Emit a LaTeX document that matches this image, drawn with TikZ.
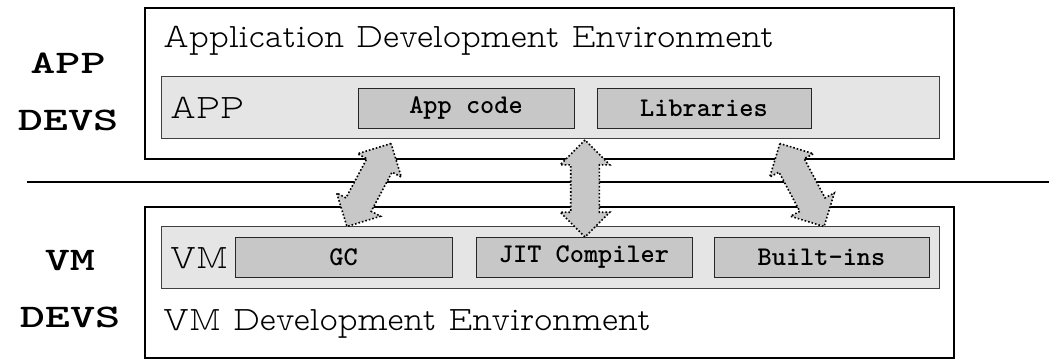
\documentclass[tikz,border=0pt]{standalone}
\usetikzlibrary{shapes.arrows,positioning}
\newcommand\envfont{\fontfamily{lmvtt}\fontseries{l}\fontsize{34.2}{38}\selectfont}
\newcommand\partfont{\fontfamily{lmtt}\fontseries{b}\fontsize{27}{30}\selectfont}
\newcommand\devsfont{\fontfamily{lmtt}\fontseries{b}\fontsize{33}{57}\selectfont}
\newcommand\shaftstrut{\rule[-13.5pt]{0pt}{27pt}}
\begin{document}
\begin{tikzpicture}[x=1pt,y=-1pt,
    envbox/.style={draw=black, line width=2pt, fill=white, minimum width=809pt, minimum height=151pt, inner sep=0pt},
    layerbox/.style={draw=black!75, line width=1pt, fill=black!10, minimum width=778pt, minimum height=62pt, inner sep=0pt},
    partbox/.style={draw=black!85, line width=1pt, fill=black!22, minimum width=216pt, minimum height=40pt, inner sep=0pt, font=\partfont},
    envlabel/.style={anchor=base west, inner sep=0pt, font=\envfont},
    devslabel/.style={align=center, inner sep=0pt, xscale=1.45, font=\devsfont},
    fatarrow/.style={double arrow, draw=black, dotted, line width=1.6pt, fill=black!22, double arrow head extend=10.5pt, inner sep=0pt, minimum height=#1},
    fatarrow/.default=97pt]
  \useasboundingbox (0,0) rectangle (1049,360);
  \node[envbox] (appenv) at (549.5,83.5) {};
  \node[envlabel] (apptitle) at (163,47) {Application Development Environment};
  \node[layerbox] (applayer) at (550,107) {};
  \node[envlabel] (applabel) at (170,118) {APP};
  \node[partbox] (appcode) at (466,108) {App code};
  \node[partbox, minimum width=214pt] (libs) at (704,108) {Libraries};

  \coordinate (lineleft) at (27,182);
  \coordinate (lineright) at (1049,182);
  \draw[line width=2pt] (lineleft) -- (lineright);

  \node[envbox] (vmenv) at (549.5,282.5) {};
  \node[layerbox] (vmlayer) at (550,257) {};
  \node[envlabel] (vmlabel) at (170,268) {VM};
  \node[partbox, minimum width=217pt] (gc) at (343.5,257) {GC};
  \node[partbox] (jit) at (584,257) {JIT Compiler};
  \node[partbox, minimum width=215pt] (builtins) at (821.5,257) {Built-ins};
  \node[envlabel] (vmtitle) at (163,330) {VM Development Environment};

  \node[devslabel] (appdevs) at (68,91.5) {APP\\DEVS};
  \node[devslabel] (vmdevs) at (70,289) {VM\\DEVS};

  \node[fatarrow=94pt, rotate=62] (gcarrow) at (369,185) {\shaftstrut};
  \node[fatarrow, rotate=90] (jitarrow) at (585,188.5) {\shaftstrut};
  \node[fatarrow=94pt, rotate=118] (biarrow) at (802,185) {\shaftstrut};
\end{tikzpicture}
\end{document}
